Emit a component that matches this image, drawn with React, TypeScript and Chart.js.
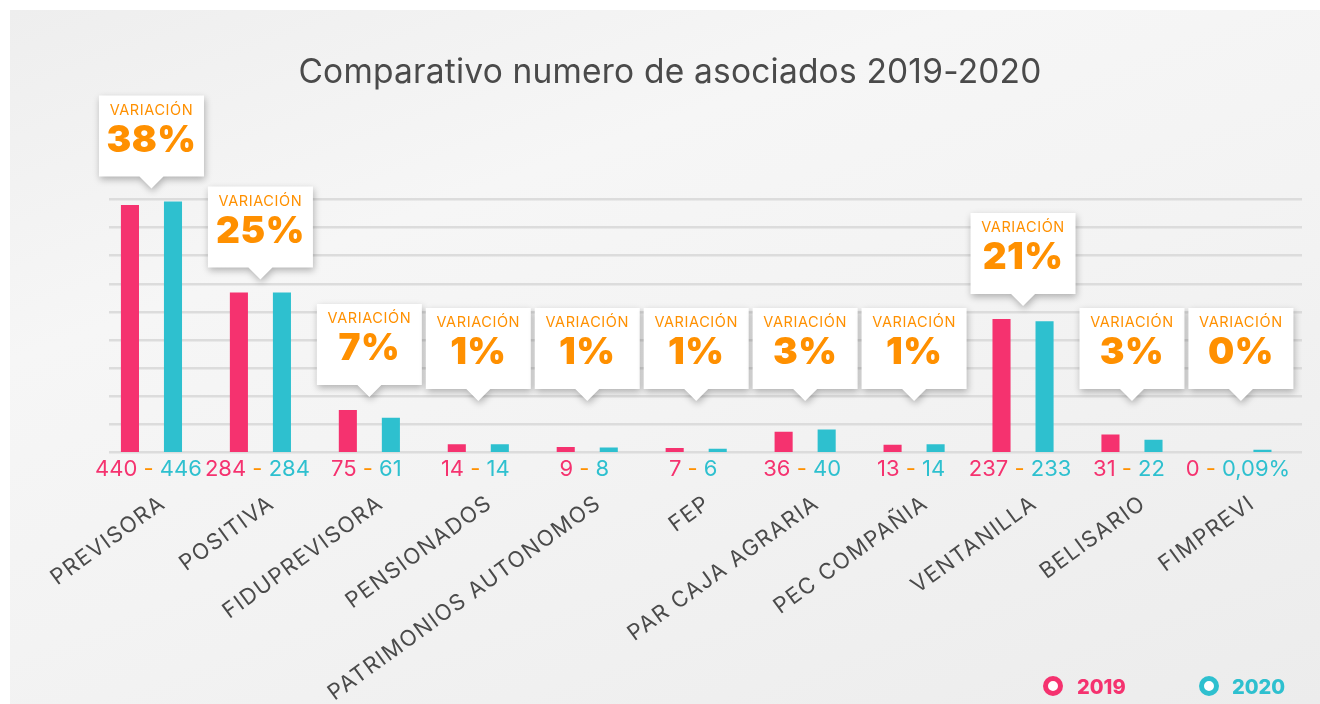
import React, { useEffect, useRef } from 'react';
import { Chart, registerables } from 'chart.js';

Chart.register(...registerables);

const categories = [
  'PREVISORA',
  'POSITIVA',
  'FIDUPREVISORA',
  'PENSIONADOS',
  'PATRIMONIOS AUTONOMOS',
  'FEP',
  'PAR CAJA AGRARIA',
  'PEC COMPAÑIA',
  'VENTANILLA',
  'BELISARIO',
  'FIMPREVI',
];

const values2019 = [440, 284, 75, 14, 9, 7, 36, 13, 237, 31, 0];
const values2020 = [446, 284, 61, 14, 8, 6, 40, 14, 233, 22, 4];

const valueLabels2019 = ['440', '284', '75', '14', '9', '7', '36', '13', '237', '31', '0'];
const valueLabels2020 = ['446', '284', '61', '14', '8', '6', '40', '14', '233', '22', '0,09%'];

const variations = ['38%', '25%', '7%', '1%', '1%', '1%', '3%', '1%', '21%', '3%', '0%'];

const seriesNames = ['2019', '2020'];
const yMax = 450;
const yStep = 50;

const TITLE = 'Comparativo numero de asociados 2019-2020';
const CALLOUT_HEADER = 'VARIACIÓN';

const PINK = '#f5326f';
const CYAN = '#2ec0cf';
const ORANGE = '#ff9000';
const TEXT = '#4a4a4a';
const FONT = 'Inter, "Noto Sans", sans-serif';

const overlayPlugin = {
  id: 'overlay',
  beforeDatasetsDraw(chart: any) {
    const { ctx, scales } = chart;
    const y = scales.y;
    ctx.save();
    ctx.strokeStyle = '#dcdcdc';
    ctx.lineWidth = 2.5;
    for (const t of y.ticks) {
      const py = Math.round(y.getPixelForValue(t.value)) + 0.25;
      ctx.beginPath();
      ctx.moveTo(109, py);
      ctx.lineTo(1302, py);
      ctx.stroke();
    }
    ctx.restore();
  },
  afterDatasetsDraw(chart: any) {
    const { ctx, scales } = chart;
    const x = scales.x;
    const y = scales.y;
    const d0 = chart.data.datasets[0];
    const d1 = chart.data.datasets[1];

    // title
    ctx.save();
    ctx.fillStyle = TEXT;
    ctx.font = `400 33.5px ${FONT}`;
    (ctx as any).letterSpacing = '0.2px';
    ctx.textAlign = 'center';
    ctx.textBaseline = 'alphabetic';
    ctx.fillText(TITLE, 670, 83);
    ctx.restore();

    // callouts
    categories.forEach((_, i) => {
      const cx = x.getPixelForValue(i);
      const topVal = Math.max(d0.data[i], d1.data[i]);
      const topPx = y.getPixelForValue(topVal);
      const tipY = Math.min(401, topPx - 13);
      const boxBottom = tipY - 12;
      const boxTop = boxBottom - 81;
      const w = 105;
      const left = cx - w / 2;
      const right = cx + w / 2;
      ctx.save();
      ctx.shadowColor = 'rgba(0,0,0,0.28)';
      ctx.shadowBlur = 7;
      ctx.shadowOffsetX = 1;
      ctx.shadowOffsetY = 3;
      ctx.fillStyle = '#ffffff';
      ctx.beginPath();
      ctx.moveTo(left, boxTop);
      ctx.lineTo(right, boxTop);
      ctx.lineTo(right, boxBottom);
      ctx.lineTo(cx + 12, boxBottom);
      ctx.lineTo(cx, tipY);
      ctx.lineTo(cx - 12, boxBottom);
      ctx.lineTo(left, boxBottom);
      ctx.closePath();
      ctx.fill();
      ctx.restore();

      ctx.save();
      ctx.fillStyle = ORANGE;
      ctx.textAlign = 'center';
      ctx.textBaseline = 'alphabetic';
      ctx.font = `400 14.5px ${FONT}`;
      (ctx as any).letterSpacing = '0.6px';
      ctx.fillText(CALLOUT_HEADER, cx, boxTop + 19);
      (ctx as any).letterSpacing = '0.5px';
      ctx.font = `900 37px ${FONT}`;
      ctx.fillText(variations[i], cx, boxTop + 56);
      ctx.restore();
    });

    // value labels
    categories.forEach((_, i) => {
      const cx = x.getPixelForValue(i);
      ctx.save();
      ctx.font = `400 22px ${FONT}`;
      ctx.textBaseline = 'alphabetic';
      ctx.textAlign = 'left';
      const parts = [
        { t: valueLabels2019[i], c: PINK },
        { t: ' - ', c: ORANGE },
        { t: valueLabels2020[i], c: CYAN },
      ];
      const total = parts.reduce((s, p) => s + ctx.measureText(p.t).width, 0);
      let px = cx - total / 2 - 3;
      for (const p of parts) {
        ctx.fillStyle = p.c;
        ctx.fillText(p.t, px, 476);
        px += ctx.measureText(p.t).width;
      }
      ctx.restore();
    });

    // category labels (rotated)
    categories.forEach((name, i) => {
      const cx = x.getPixelForValue(i);
      ctx.save();
      ctx.translate(cx + 5, 492);
      ctx.rotate((-36 * Math.PI) / 180);
      ctx.font = `400 22px ${FONT}`;
      (ctx as any).letterSpacing = '1.4px';
      ctx.fillStyle = TEXT;
      ctx.textAlign = 'right';
      ctx.textBaseline = 'top';
      ctx.fillText(name, 0, 0);
      ctx.restore();
    });

    // legend
    const legendPos = [
      { cx: 1053, tx: 1077 },
      { cx: 1209, tx: 1232 },
    ];
    chart.data.datasets.forEach((ds: any, k: number) => {
      const p = legendPos[k];
      ctx.save();
      ctx.beginPath();
      ctx.arc(p.cx, 686, 7.5, 0, Math.PI * 2);
      ctx.fillStyle = '#ffffff';
      ctx.fill();
      ctx.lineWidth = 5;
      ctx.strokeStyle = ds.backgroundColor;
      ctx.stroke();
      ctx.font = `800 20px ${FONT}`;
      ctx.fillStyle = ds.backgroundColor;
      ctx.textAlign = 'left';
      ctx.textBaseline = 'alphabetic';
      ctx.fillText(ds.label, p.tx, 694);
      ctx.restore();
    });
  },
};

export default function App() {
  const ref = useRef<HTMLCanvasElement>(null);

  useEffect(() => {
    const chart = new Chart(ref.current!, {
      type: 'bar',
      data: {
        labels: categories,
        datasets: [
          {
            label: seriesNames[0],
            data: values2019,
            backgroundColor: PINK,
            categoryPercentage: 0.79,
            barPercentage: 0.42,
          },
          {
            label: seriesNames[1],
            data: values2020,
            backgroundColor: CYAN,
            categoryPercentage: 0.79,
            barPercentage: 0.42,
          },
        ],
      },
      options: {
        responsive: false,
        devicePixelRatio: 1,
        animation: false,
        layout: { padding: { left: 97, right: 24.6, top: 199.3, bottom: 252 } },
        plugins: {
          legend: { display: false },
          title: { display: false },
          tooltip: { enabled: false },
        },
        scales: {
          x: { display: false, offset: true },
          y: {
            display: false,
            min: 0,
            max: yMax,
            ticks: { stepSize: yStep },
          },
        },
      },
      plugins: [overlayPlugin],
    });
    return () => chart.destroy();
  }, []);

  return (
    <div
      style={{
        position: 'fixed',
        left: 0,
        top: 0,
        width: 1320,
        height: 704,
        background: '#ffffff',
        overflow: 'hidden',
      }}
    >
      <div
        style={{
          position: 'absolute',
          left: 10,
          top: 10,
          width: 1310,
          height: 694,
          background:
            'linear-gradient(160deg, #eeeeee 0%, #f6f6f6 30%, #f3f3f3 55%, #ececec 100%)',
        }}
      />
      <canvas
        ref={ref}
        width={1320}
        height={704}
        style={{ position: 'absolute', left: 0, top: 0, width: 1320, height: 704 }}
      />
    </div>
  );
}
